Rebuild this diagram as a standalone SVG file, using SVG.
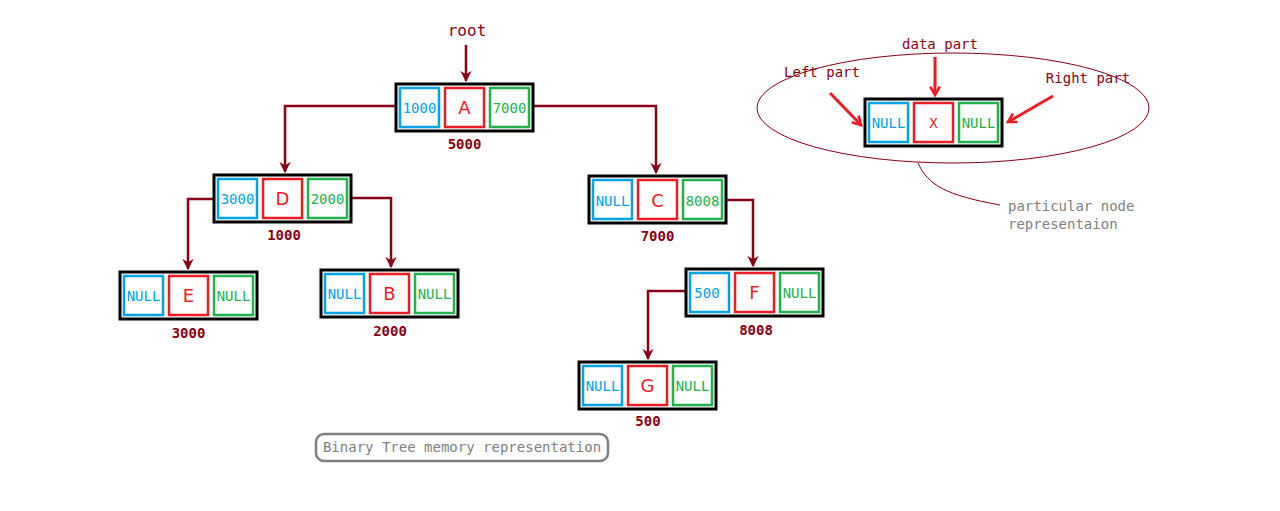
<svg xmlns="http://www.w3.org/2000/svg" width="1280" height="511" viewBox="0 0 1280 511">
<defs>
<style>
.outer{fill:#fff;stroke:#000;stroke-width:3}
.bl{fill:#fff;stroke:#00a2e8;stroke-width:2.5}
.rd{fill:#fff;stroke:#ed1c24;stroke-width:2.5}
.gr{fill:#fff;stroke:#22b14c;stroke-width:2.5}
.mono{font-family:"DejaVu Sans Mono","Liberation Mono",monospace}
.tb{fill:#00a2e8;font-size:14px;text-anchor:middle}
.tg{fill:#22b14c;font-size:14px;text-anchor:middle}
.tr{fill:#ed1c24;font-family:"DejaVu Sans","Liberation Sans",sans-serif;font-size:18px;text-anchor:middle}
.addr{fill:#880015;font-size:14px;font-weight:bold;text-anchor:middle}
.lbl{fill:#880015;font-size:14px}
.conn{fill:none;stroke:#880015;stroke-width:2.5}
.red{fill:none;stroke:#ed1c24;stroke-width:3}
.gray{fill:#808080;font-size:14px}
</style>
<marker id="ah" viewBox="0 0 10 10" refX="9" refY="5" markerWidth="4.5" markerHeight="4.5" orient="auto" markerUnits="strokeWidth">
<path d="M0,0 L10,5 L0,10 L3,5 Z" fill="#880015"/>
</marker>
<marker id="rh" viewBox="0 0 10 10" refX="8" refY="5" markerWidth="4" markerHeight="4" orient="auto" markerUnits="strokeWidth">
<path d="M1,1 L8,5 L1,9" fill="none" stroke="#ed1c24" stroke-width="2.2"/>
</marker>
<g id="cell">
<rect class="outer" x="0" y="0" width="137" height="47"/>
<rect class="bl" x="4" y="4" width="39" height="39"/>
<rect class="rd" x="49" y="4" width="39" height="39"/>
<rect class="gr" x="94" y="4" width="39" height="39"/>
</g>
</defs>
<rect width="1280" height="511" fill="#fff"/>

<g id="connectors">
<path class="conn" d="M466,45 V81" marker-end="url(#ah)"/>
<path class="conn" d="M396,106 H285 V172" marker-end="url(#ah)"/>
<path class="conn" d="M534,106 H656 V173" marker-end="url(#ah)"/>
<path class="conn" d="M214,199 H188 V269" marker-end="url(#ah)"/>
<path class="conn" d="M352,198 H391 V267" marker-end="url(#ah)"/>
<path class="conn" d="M726,200 H753 V266" marker-end="url(#ah)"/>
<path class="conn" d="M686,291 H648 V359" marker-end="url(#ah)"/>
</g>

<text class="mono lbl" x="467" y="36" text-anchor="middle" style="font-size:16px">root</text>

<g id="nodeA" transform="translate(396,84)">
<use href="#cell"/>
<text class="mono tb" x="23.5" y="28.5">1000</text>
<text class="tr" x="68.5" y="30">A</text>
<text class="mono tg" x="113.5" y="28.5">7000</text>
<text class="mono addr" x="68.5" y="65">5000</text>
</g>

<g id="nodeD" transform="translate(214,175)">
<use href="#cell"/>
<text class="mono tb" x="23.5" y="28.5">3000</text>
<text class="tr" x="68.5" y="30">D</text>
<text class="mono tg" x="113.5" y="28.5">2000</text>
<text class="mono addr" x="70" y="65">1000</text>
</g>

<g id="nodeE" transform="translate(120,272)">
<use href="#cell"/>
<text class="mono tb" x="23.5" y="28.5">NULL</text>
<text class="tr" x="68.5" y="30">E</text>
<text class="mono tg" x="113.5" y="28.5">NULL</text>
<text class="mono addr" x="68.5" y="66">3000</text>
</g>

<g id="nodeB" transform="translate(321,270)">
<use href="#cell"/>
<text class="mono tb" x="23.5" y="28.5">NULL</text>
<text class="tr" x="68.5" y="30">B</text>
<text class="mono tg" x="113.5" y="28.5">NULL</text>
<text class="mono addr" x="69" y="66">2000</text>
</g>

<g id="nodeC" transform="translate(589,176)">
<use href="#cell"/>
<text class="mono tb" x="23.5" y="29.5">NULL</text>
<text class="tr" x="68.5" y="31">C</text>
<text class="mono tg" x="113.5" y="29.5">8008</text>
<text class="mono addr" x="68.5" y="65">7000</text>
</g>

<g id="nodeF" transform="translate(686,269)">
<use href="#cell"/>
<text class="mono tb" x="21" y="28.5">500</text>
<text class="tr" x="68.5" y="30">F</text>
<text class="mono tg" x="113.5" y="28.5">NULL</text>
<text class="mono addr" x="70" y="66">8008</text>
</g>

<g id="nodeG" transform="translate(579,362)">
<use href="#cell"/>
<text class="mono tb" x="23.5" y="28.5">NULL</text>
<text class="tr" x="68.5" y="30">G</text>
<text class="mono tg" x="113.5" y="28.5">NULL</text>
<text class="mono addr" x="69" y="64">500</text>
</g>

<g id="caption">
<rect x="316" y="434" width="292" height="27" rx="8" ry="8" fill="#fff" stroke="#808080" stroke-width="2.5"/>
<text class="mono gray" x="462" y="452" text-anchor="middle">Binary Tree memory representation</text>
</g>

<g id="legend">
<ellipse cx="953" cy="108" rx="196" ry="55" fill="none" stroke="#880015" stroke-width="1"/>
<path d="M918,163 C928,185 945,195 1000,205" fill="none" stroke="#880015" stroke-width="1"/>
<text class="mono gray" x="1008" y="211">particular node</text>
<text class="mono gray" x="1008" y="229">representaion</text>
<g id="nodeX" transform="translate(865,99)">
<use href="#cell"/>
<text class="mono tb" x="23.5" y="29">NULL</text>
<text class="mono" x="68.5" y="29" fill="#ed1c24" font-size="14" text-anchor="middle">X</text>
<text class="mono tg" x="113.5" y="29">NULL</text>
</g>
<text class="mono lbl" x="940" y="49" text-anchor="middle">data part</text>
<text class="mono lbl" x="822" y="77" text-anchor="middle">Left part</text>
<text class="mono lbl" x="1088" y="83" text-anchor="middle">Right part</text>
<path class="red" d="M935,57 V95" marker-end="url(#rh)"/>
<path class="red" d="M830,93 L861,125" marker-end="url(#rh)"/>
<path class="red" d="M1053,96 L1008,122" marker-end="url(#rh)"/>
</g>
</svg>
